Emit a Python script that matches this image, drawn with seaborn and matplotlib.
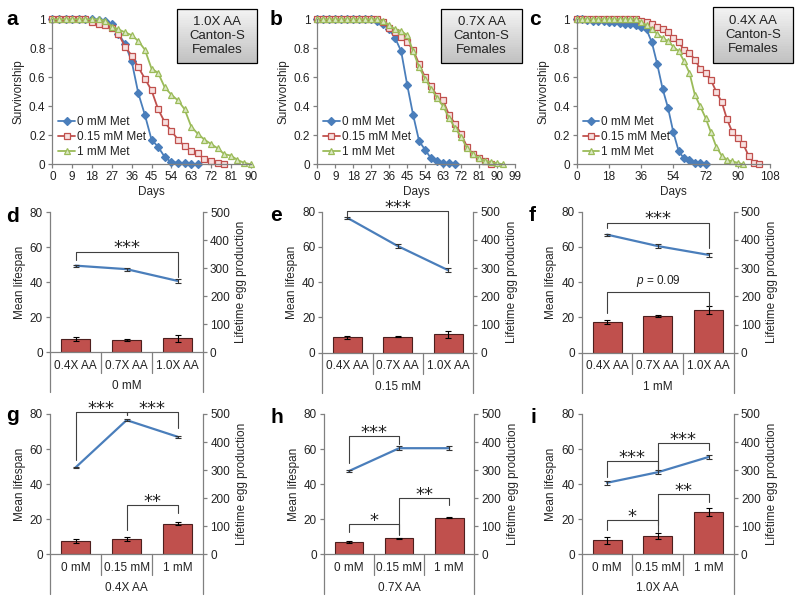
"""Methionine x amino-acid survivorship / lifespan / egg production panels."""

import numpy as np
import matplotlib
matplotlib.use("Agg")
import matplotlib.pyplot as plt
import matplotlib.transforms as mtransforms
from matplotlib.patches import Rectangle
import seaborn as sns

# ---- survivorship curves (sampled every 3 days) ----
met_labels = ["0 mM Met", "0.15 mM Met", "1 mM Met"]

# a: 1.0X AA
a_days_0 = np.arange(0, 67, 3)
a_surv_0 = [1, 1, 1, 1, 1, 1, 1, 0.995, 0.99, 0.97, 0.90, 0.83, 0.71, 0.49,
            0.34, 0.17, 0.12, 0.05, 0.014, 0.012, 0.008, 0.005, 0.0]
a_days_015 = np.arange(0, 79, 3)
a_surv_015 = [1, 1, 1, 1, 1, 1, 0.98, 0.97, 0.96, 0.94, 0.90, 0.81, 0.75, 0.67,
              0.59, 0.51, 0.38, 0.29, 0.23, 0.17, 0.125, 0.095, 0.075, 0.035,
              0.02, 0.01, 0.0]
a_days_1 = np.arange(0, 91, 3)
a_surv_1 = [1, 1, 1, 1, 1, 1, 1, 1, 0.99, 0.95, 0.93, 0.91, 0.89, 0.85, 0.79,
            0.66, 0.63, 0.53, 0.48, 0.44, 0.38, 0.26, 0.21, 0.17, 0.14, 0.11,
            0.07, 0.06, 0.03, 0.01, 0.0]

# b: 0.7X AA
b_days_0 = np.arange(0, 70, 3)
b_surv_0 = [1, 1, 1, 1, 1, 1, 1, 1, 1, 1, 0.99, 0.97, 0.93, 0.87, 0.78, 0.55,
            0.34, 0.16, 0.10, 0.04, 0.02, 0.012, 0.007, 0.0]
b_days_015 = np.arange(0, 88, 3)
b_surv_015 = [1, 1, 1, 1, 1, 1, 1, 1, 1, 1, 1, 0.98, 0.94, 0.91, 0.88, 0.84,
              0.79, 0.69, 0.60, 0.54, 0.47, 0.44, 0.34, 0.28, 0.21, 0.12, 0.07,
              0.04, 0.025, 0.0]
b_days_1 = np.arange(0, 94, 3)
b_surv_1 = [1, 1, 1, 1, 1, 1, 1, 1, 1, 1, 1, 0.99, 0.96, 0.93, 0.92, 0.89, 0.78,
            0.67, 0.59, 0.52, 0.46, 0.40, 0.32, 0.25, 0.19, 0.11, 0.07, 0.04,
            0.025, 0.015, 0.008, 0.0]

# c: 0.4X AA
c_days_0 = np.arange(0, 73, 3)
c_surv_0 = [1, 1, 0.995, 0.99, 0.99, 0.985, 0.98, 0.98, 0.975, 0.97, 0.97,
            0.96, 0.95, 0.93, 0.84, 0.69, 0.52, 0.39, 0.22, 0.09, 0.04, 0.03,
            0.01, 0.01, 0.0]
c_days_015 = np.arange(0, 103, 3)
c_surv_015 = [1, 1, 1, 1, 1, 1, 1, 1, 1, 1, 1, 1, 0.99, 0.98, 0.97, 0.95, 0.93,
              0.91, 0.87, 0.84, 0.79, 0.77, 0.72, 0.66, 0.63, 0.58, 0.50, 0.43,
              0.31, 0.22, 0.18, 0.14, 0.06, 0.01, 0.0]
c_days_1 = np.arange(0, 94, 3)
c_surv_1 = [1, 1, 1, 1, 1, 1, 1, 1, 1, 1, 1, 1, 0.98, 0.96, 0.93, 0.90, 0.87,
            0.85, 0.81, 0.78, 0.71, 0.63, 0.48, 0.40, 0.32, 0.22, 0.12, 0.06,
            0.03, 0.02, 0.01, 0.0]

# ---- mean lifespan (days) and lifetime egg production, by AA level ----
aa_levels = ["0.4X AA", "0.7X AA", "1.0X AA"]
met_levels = ["0 mM", "0.15 mM", "1 mM"]

lifespan_0mM = [49.5, 47.5, 40.8]
lifespan_015mM = [76.5, 60.5, 46.8]
lifespan_1mM = [67.0, 60.5, 55.5]
lifespan_err_0mM = [0.5, 0.8, 1.0]
lifespan_err_015mM = [0.6, 1.0, 1.2]
lifespan_err_1mM = [0.6, 1.0, 1.2]

eggs_0mM = [47, 44, 50]
eggs_015mM = [54, 57, 65]
eggs_1mM = [109, 131, 151]
eggs_err_0mM = [6, 2, 12]
eggs_err_015mM = [6, 2, 12]
eggs_err_1mM = [6, 3, 14]

BLUE = "#4a7ebb"
RED = "#c0504d"
GREEN = "#9bbb59"
AXIS = "#808080"
TEXT = "#222222"

sns.set_style("ticks")
plt.rcParams["font.family"] = ["Liberation Sans", "DejaVu Sans"]
plt.rcParams["mathtext.fontset"] = "custom"
plt.rcParams["mathtext.it"] = "Liberation Sans:italic"
plt.rcParams["mathtext.rm"] = "Liberation Sans"
plt.rcParams["text.color"] = TEXT
plt.rcParams["xtick.color"] = AXIS
plt.rcParams["ytick.color"] = AXIS
plt.rcParams["xtick.labelcolor"] = TEXT
plt.rcParams["ytick.labelcolor"] = TEXT

FS = 8.5

fig = plt.figure(figsize=(8, 6.02), dpi=100)


def style_spines(ax, keep):
  for side in ["left", "right", "top", "bottom"]:
    ax.spines[side].set_visible(side in keep)
    ax.spines[side].set_color(AXIS)
    ax.spines[side].set_linewidth(0.9)


def condition_box(ax, x0, x1, y0, y1, text):
  """Grey gradient label box in axes coordinates."""
  n = 24
  shades = np.linspace(0.95, 0.76, n)
  step = (y1 - y0) / n
  for k, g in enumerate(shades):
    ax.add_patch(Rectangle(
      (x0, y1 - (k + 1) * step), x1 - x0, step * 1.02,
      transform=ax.transAxes, facecolor=(g, g, g), edgecolor="none",
      clip_on=False, zorder=5,
    ))
  ax.add_patch(Rectangle(
    (x0, y0), x1 - x0, y1 - y0, transform=ax.transAxes,
    facecolor="none", edgecolor="black", linewidth=0.9, clip_on=False,
    zorder=6,
  ))
  ax.text((x0 + x1) / 2, (y0 + y1) / 2, text, transform=ax.transAxes,
          ha="center", va="center", fontsize=9.5, linespacing=1.22,
          zorder=7)


def survival_panel(rect, curves, xmax, xstep, box_text, box_x):
  """Survivorship curves for one AA level."""
  ax = fig.add_axes(rect)
  styles = [
    dict(color=BLUE, marker="D", markerfacecolor=BLUE, markersize=4),
    dict(color=RED, marker="s", markerfacecolor="#f7e1e0", markersize=4.2),
    dict(color=GREEN, marker="^", markerfacecolor="#dbe8c3", markersize=4.8),
  ]
  for (days, surv), label, st in zip(curves, met_labels, styles):
    sns.lineplot(
      x=days, y=surv, ax=ax,
      color=st["color"], marker=st["marker"],
      markerfacecolor=st["markerfacecolor"],
      markeredgecolor=st["color"], markeredgewidth=0.9,
      markersize=st["markersize"], linewidth=1.3,
      label=label, clip_on=False,
    )
  ax.set_xlim(0, xmax)
  ax.set_ylim(0, 1)
  ax.set_xticks(np.arange(0, xmax + 1, xstep))
  ax.set_yticks([0, 0.2, 0.4, 0.6, 0.8, 1.0])
  ax.set_yticklabels(["0", "0.2", "0.4", "0.6", "0.8", "1"])
  ax.tick_params(labelsize=FS, length=3, width=0.9, pad=2)
  ax.set_xlabel("Days", fontsize=FS, labelpad=2)
  ax.set_ylabel("Survivorship", fontsize=FS, labelpad=3)
  style_spines(ax, ["left", "bottom"])
  ax.legend(
    loc="lower left", bbox_to_anchor=(0.03, 0.04), frameon=False,
    fontsize=FS, handlelength=1.4, handletextpad=0.15,
    labelspacing=0.28, borderaxespad=0, borderpad=0,
  )
  condition_box(ax, box_x[0], box_x[1], box_x[2], box_x[3], box_text)
  return ax


def bar_panel(rect, cats, group, life, life_err, eggs, eggs_err, brackets):
  """Egg production bars (right axis) with mean lifespan line (left axis)."""
  ax = fig.add_axes(rect)
  ax2 = ax.twinx()
  pos = np.arange(len(cats))

  sns.barplot(
    x=pos, y=eggs, ax=ax2, native_scale=True, errorbar=None,
    color=RED, saturation=1, width=0.57,
    edgecolor="#4d1f1e", linewidth=0.8,
  )
  ax2.errorbar(pos, eggs, yerr=eggs_err, fmt="none", ecolor="black",
               elinewidth=0.8, capsize=2, capthick=0.8)

  sns.lineplot(x=pos, y=life, ax=ax, color=BLUE, linewidth=1.6)
  ax.errorbar(pos, life, yerr=life_err, fmt="none", ecolor="#333333",
              elinewidth=0.8, capsize=2, capthick=0.8)

  ax.set_zorder(ax2.get_zorder() + 1)
  ax.patch.set_visible(False)

  ax.set_xlim(-0.5, len(cats) - 0.5)
  ax.set_ylim(0, 80)
  ax2.set_ylim(0, 500)
  ax.set_yticks([0, 20, 40, 60, 80])
  ax2.set_yticks([0, 100, 200, 300, 400, 500])
  ax.set_xticks([])
  ax2.set_xticks([])
  ax.set_xlabel("")
  ax2.set_xlabel("")
  ax.tick_params(axis="y", labelsize=FS, length=3, width=0.9, pad=2)
  ax2.tick_params(axis="y", labelsize=FS, length=3, width=0.9, pad=2)
  ax.set_ylabel("Mean lifespan", fontsize=FS, labelpad=3)
  ax2.set_ylabel("Lifetime egg production", fontsize=FS, labelpad=4)
  style_spines(ax, ["left", "bottom"])
  style_spines(ax2, ["right"])

  # two-level category axis below the plot
  trans = mtransforms.blended_transform_factory(ax.transData, ax.transAxes)
  for xs in [0.5, 1.5]:
    ax.plot([xs, xs], [0, -0.15], transform=trans, color=AXIS, lw=0.9,
            clip_on=False)
  for xs in [-0.5, 2.5]:
    ax.plot([xs, xs], [0, -0.285], transform=trans, color=AXIS, lw=0.9,
            clip_on=False)
  for p, c in zip(pos, cats):
    ax.text(p, -0.095, c, transform=trans, ha="center", va="center",
            fontsize=FS)
  ax.text(1, -0.24, group, transform=trans, ha="center", va="center",
          fontsize=FS)

  # significance brackets: (x1, x2, top, leg1, leg2, label)
  for x1, x2, top, leg1, leg2, label in brackets:
    ax.plot([x1, x1, x2, x2], [leg1, top, top, leg2], color="#404040",
            lw=0.8, clip_on=False)
    if "*" in label:
      ax.text((x1 + x2) / 2, top - 1.0, label, ha="center", va="baseline",
              fontsize=13, family="DejaVu Sans", clip_on=False)
    else:
      ax.text((x1 + x2) / 2, top + 1.2, label, ha="center", va="bottom",
              fontsize=FS, clip_on=False)
  return ax


# ---- top row ----
survival_panel([0.0654, 0.7271, 0.2480, 0.2409],
               [(a_days_0, a_surv_0), (a_days_015, a_surv_015),
                (a_days_1, a_surv_1)],
               90, 9, "1.0X AA\nCanton-S\nFemales",
               (0.628, 1.032, 0.70, 1.068))
survival_panel([0.3966, 0.7271, 0.2471, 0.2409],
               [(b_days_0, b_surv_0), (b_days_015, b_surv_015),
                (b_days_1, b_surv_1)],
               99, 9, "0.7X AA\nCanton-S\nFemales",
               (0.626, 1.036, 0.70, 1.068))
survival_panel([0.7209, 0.7271, 0.2416, 0.2409],
               [(c_days_0, c_surv_0), (c_days_015, c_surv_015),
                (c_days_1, c_surv_1)],
               108, 18, "0.4X AA\nCanton-S\nFemales",
               (0.704, 1.121, 0.70, 1.085))

# ---- middle row: one Met dose, three AA levels ----
bar_panel([0.0625, 0.4148, 0.1913, 0.2326], aa_levels, "0 mM",
          lifespan_0mM, lifespan_err_0mM, eggs_0mM, eggs_err_0mM,
          [(0, 2, 57.5, 52.5, 43.0, "***")])
bar_panel([0.4029, 0.4141, 0.1888, 0.2342], aa_levels, "0.15 mM",
          lifespan_015mM, lifespan_err_015mM, eggs_015mM, eggs_err_015mM,
          [(0, 2, 80.4, 77.8, 51.0, "***")])
bar_panel([0.7271, 0.4141, 0.1904, 0.2342], aa_levels, "1 mM",
          lifespan_1mM, lifespan_err_1mM, eggs_1mM, eggs_err_1mM,
          [(0, 2, 73.8, 71.0, 59.6, "***"),
           (0, 2, 34.7, 22.4, 26.2, "$p$ = 0.09")])

# ---- bottom row: one AA level, three Met doses ----
for i, (rect, brackets) in enumerate([
  ([0.0625, 0.0792, 0.1916, 0.2331],
   [(0, 1, 81.0, 53.8, 79.4, "***"), (1, 2, 81.0, 79.4, 71.8, "***"),
    (1, 2, 28.1, 13.9, 23.4, "**")]),
  ([0.4050, 0.0792, 0.1879, 0.2331],
   [(0, 1, 67.4, 51.9, 62.7, "***"), (0, 1, 17.1, 12.9, 11.4, "*"),
    (1, 2, 31.9, 11.0, 28.1, "**")]),
  ([0.7271, 0.0792, 0.1904, 0.2331],
   [(0, 1, 53.2, 44.3, 48.1, "***"), (1, 2, 63.6, 48.1, 59.5, "***"),
    (0, 1, 19.6, 13.9, 16.7, "*"), (1, 2, 34.2, 12.9, 30.0, "**")]),
]):
  life = [lifespan_0mM[i], lifespan_015mM[i], lifespan_1mM[i]]
  life_err = [lifespan_err_0mM[i], lifespan_err_015mM[i], lifespan_err_1mM[i]]
  eggs = [eggs_0mM[i], eggs_015mM[i], eggs_1mM[i]]
  eggs_err = [eggs_err_0mM[i], eggs_err_015mM[i], eggs_err_1mM[i]]
  bar_panel(rect, met_levels, aa_levels[i], life, life_err, eggs, eggs_err,
            brackets)

# ---- panel letters ----
letters = [("a", 6, 25), ("b", 270, 25), ("c", 529, 25),
           ("d", 6, 222), ("e", 270, 221), ("f", 529, 221),
           ("g", 6, 421), ("h", 270, 423), ("i", 531, 423)]
for letter, px, py in letters:
  fig.text(px / 800, 1 - py / 602, letter, fontsize=15, fontweight="bold",
           color="black", ha="left", va="baseline")

fig.savefig("out.png", dpi=100)
